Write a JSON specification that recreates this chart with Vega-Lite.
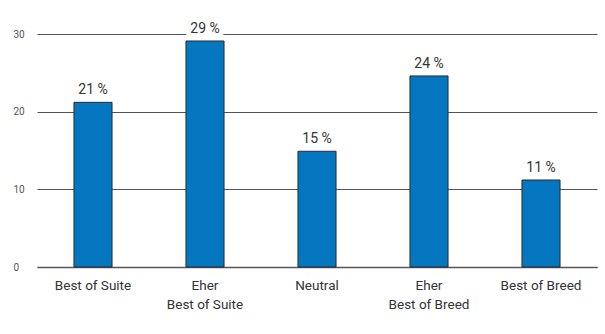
{
  "$schema": "https://vega.github.io/schema/vega-lite/v6.json",
  "width": 560,
  "height": 233,
  "autosize": {"type": "none"},
  "padding": {"left": 37, "top": 34, "right": 8, "bottom": 67},
  "background": "white",
  "data": {
    "values": [
      {"kategorie": "Best of Suite", "wert": 21.2, "label": "21 %"},
      {"kategorie": "Eher Best of Suite", "wert": 29.1, "label": "29 %"},
      {"kategorie": "Neutral", "wert": 14.9, "label": "15 %"},
      {"kategorie": "Eher Best of Breed", "wert": 24.6, "label": "24 %"},
      {"kategorie": "Best of Breed", "wert": 11.2, "label": "11 %"}
    ]
  },
  "config": {
    "view": {"stroke": null},
    "font": "Roboto"
  },
  "encoding": {
    "x": {
      "field": "kategorie",
      "type": "nominal",
      "sort": null,
      "scale": {"paddingInner": 0.66, "paddingOuter": 0.33},
      "axis": {
        "title": null,
        "labelAngle": 0,
        "labelFontSize": 13.5,
        "labelColor": "#333333",
        "labelPadding": 11,
        "labelLineHeight": 19,
        "labelBaseline": "top",
        "ticks": false,
        "domainColor": "#555555",
        "domainWidth": 1.3,
        "labelExpr": "indexof(datum.value, 'Eher ') == 0 ? ['Eher', substring(datum.value, 5)] : datum.value"
      }
    },
    "y": {
      "field": "wert",
      "type": "quantitative",
      "scale": {"domain": [0, 30], "nice": false},
      "axis": {
        "title": null,
        "values": [0, 10, 20, 30],
        "domain": false,
        "ticks": false,
        "tickSize": 0,
        "labelAlign": "left",
        "labelPadding": 24,
        "labelFontSize": 10,
        "labelColor": "#555555",
        "gridColor": "#555555",
        "gridWidth": 1
      }
    }
  },
  "layer": [
    {
      "mark": {"type": "bar", "color": "#0577C1", "stroke": "#2b2b2b", "strokeWidth": 1}
    },
    {
      "mark": {"type": "text", "dy": -12, "fontSize": 14, "stroke": "white", "strokeWidth": 10, "strokeJoin": "round", "color": "white"},
      "encoding": {"text": {"field": "label"}}
    },
    {
      "mark": {"type": "text", "dy": -12, "fontSize": 14, "color": "#333333"},
      "encoding": {"text": {"field": "label"}}
    }
  ]
}
